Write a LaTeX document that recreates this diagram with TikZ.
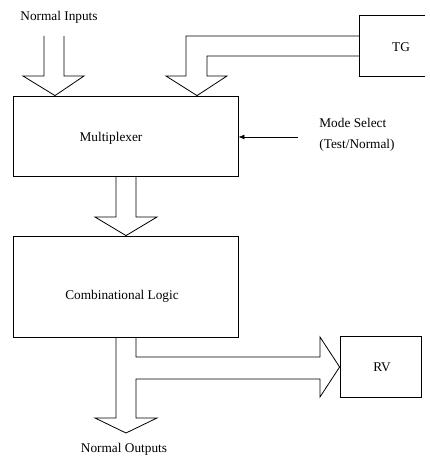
\documentclass[tikz,border=0pt]{standalone}
\usepackage{fontspec}
\setmainfont{Liberation Serif}
\usetikzlibrary{arrows.meta}
\tikzset{
  blockbox/.style={draw, rectangle, inner sep=0pt},
  lbl/.style={inner sep=0pt, font=\fontsize{13.3}{16}\selectfont},
  fat/.style={draw, line join=miter},
}
\begin{document}
\begin{tikzpicture}[x=1pt,y=-1pt,line width=0.8pt]
\useasboundingbox (0,0) rectangle (430,457);
% boxes
\node[blockbox, minimum width=225pt, minimum height=80pt] (mux) at (125.5,136) {};
\node[blockbox, minimum width=225pt, minimum height=101pt] (cl) at (125.5,286.5) {};
\node[blockbox, minimum width=81pt, minimum height=61pt] (rv) at (380.5,367) {};
% texts
\node[lbl] (muxT) at (111,138) {Multiplexer};
\node[lbl] (clT) at (122,296) {Combinational Logic};
\node[lbl] (rvT) at (382,367) {RV};
\node[lbl] (tgT) at (401,47) {TG};
\node[lbl] (inT) at (59,17) {Normal Inputs};
\node[lbl] (outT) at (124,449) {Normal Outputs};
\node[lbl, anchor=west, align=left, font=\fontsize{13.3}{21}\selectfont] (modeT) at (319,135) {Mode Select\\(Test/Normal)};
% TG box (cut by the right edge)
\coordinate (tgNW) at (359,15);
\coordinate (tgSW) at (359,76);
\draw (425,15) -- (tgNW) -- (tgSW) -- (425,76);
% mode select arrow
\coordinate (modeS) at (298,137);
\draw[-{Latex[length=6pt,width=5pt]}] (modeS) -- (mux.east |- modeS);
% normal inputs fat arrow
\draw[fat] (44,36) -- (44,76) -- (23,76) -- (55,0 |- mux.north) -- (84,76) -- (64,76) -- (64,36);
% TG fat arrow
\draw[fat] (tgNW |- 0,36) -- (186,36) -- (186,76) -- (166,76) -- (197,0 |- mux.north) -- (227,76) -- (207,76) -- (207,56) -- (tgNW |- 0,56);
% mux -> comb logic
\draw[fat] (116,0 |- mux.south) -- (116,217) -- (95,217) -- (126,0 |- cl.north) -- (157,217) -- (136,217) -- (136,0 |- mux.south);
% comb logic -> outputs and RV
\draw[fat] (116,0 |- cl.south) -- (116,418) -- (95,418) -- (126,433) -- (157,418) -- (136,418) -- (136,379) -- (320,379) -- (320,397) -- (rv.west) -- (320,337) -- (320,357) -- (136,357) -- (136,0 |- cl.south);
\end{tikzpicture}
\end{document}
